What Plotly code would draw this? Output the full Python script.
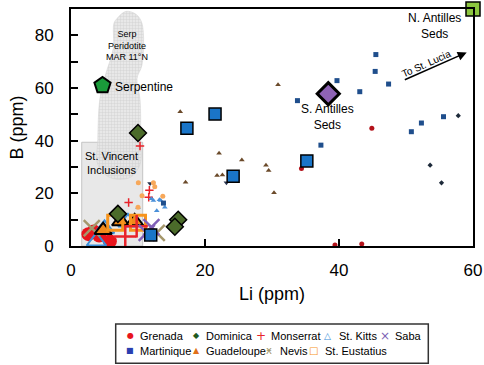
import plotly.graph_objects as go

# ---------------- data (Li ppm, B ppm) ----------------
grenada_li = [2.6, 4.2, 5.8, 3.4]
grenada_b = [4.5, 4.0, 1.8, 5.5]
grenada_small_li = [44.9, 34.4, 39.4, 43.4]
grenada_small_b = [44.7, 29.4, 0.4, 0.8]

dominica_li = [10.0, 7.0, 16.0, 15.5]
dominica_b = [42.9, 12.2, 10.0, 7.3]
dominica_small_li = [57.8, 53.6, 55.3]
dominica_small_b = [49.5, 30.7, 24.0]

monserrat_li = [8.1, 9.8]
monserrat_b = [3.6, 7.5]
monserrat_small_li = [10.3, 8.6, 11.7, 11.6]
monserrat_small_b = [38.0, 16.5, 21.2, 18.5]

stkitts_li = [3.8, 5.0, 8.5]
stkitts_b = [1.8, 6.5, 9.0]
stkitts_small_li = [12.0, 12.3, 13.2, 13.4, 12.8, 14.0, 10.0]
stkitts_small_b = [17.9, 17.3, 17.6, 17.3, 13.4, 14.7, 14.5]

saba_li = [12.0, 11.3]
saba_b = [7.2, 5.0]

martinique_li = [21.5, 17.3, 24.2, 35.2, 11.9]
martinique_b = [50.1, 44.7, 26.5, 32.3, 4.2]
martinique_small_li = [45.5, 45.4, 47.4, 39.7, 43.1, 33.8, 37.3, 52.3, 50.8, 55.6, 13.8]
martinique_small_b = [72.7, 66.3, 61.5, 62.8, 58.6, 55.2, 38.3, 46.7, 43.4, 49.1, 16.3]
martinique_other_li = [23.2, 11.8]
martinique_other_b = [24.0, 23.7]

guadeloupe_li = [4.8, 7.4, 9.5]
guadeloupe_b = [6.0, 9.3, 9.3]
guadeloupe_small_li = [16.3, 22.1, 25.5, 29.1, 29.5, 21.8, 22.6, 24.1, 17.1, 30.9, 30.3]
guadeloupe_small_b = [51.0, 35.2, 32.7, 30.7, 28.7, 26.8, 27.0, 26.8, 24.2, 61.2, 20.2]

nevis_li = [3.1, 12.8]
nevis_b = [6.8, 5.0]

steustatius_li = [6.6, 10.0]
steustatius_b = [8.8, 8.8]
steustatius_small_li = [10.05, 12.3, 12.5, 10.6, 13.7, 10.0]
steustatius_small_b = [24.0, 24.0, 22.5, 19.1, 18.9, 14.7]

serpentine_li = [4.7]
serpentine_b = [61.0]
n_antilles_li = [60.0]
n_antilles_b = [90.0]
s_antilles_li = [38.4]
s_antilles_b = [57.8]

# Serpentinised peridotite field (MAR 11N)
serp_li = [6.87, 8.2, 9.7, 10.6, 10.6, 9.85, 10.3, 10.4, 10.3, 8.8, 5.8, 4.0, 4.0, 4.3, 5.1, 6.3, 6.4, 6.87]
serp_b = [86.4, 89.1, 88.0, 84.5, 68.8, 63.5, 55.8, 40.5, 31.0, 26.0, 26.0, 31.0, 40.5, 55.8, 64.6, 75.0, 84.5, 86.4]

# St. Vincent inclusions box
stv_li = [1.6, 10.7]
stv_b = [0.0, 39.4]

x_ticks = [0, 20, 40, 60]
y_ticks = [0, 20, 40, 60, 80]

FONT = "Liberation Sans, Arial, Helvetica, sans-serif"

fig = go.Figure()

# St. Vincent box
fig.add_shape(type="rect", xref="x", yref="y", x0=stv_li[0], x1=stv_li[1], y0=stv_b[0], y1=stv_b[1],
              fillcolor="rgba(210,210,210,0.5)", line=dict(color="#c4c4c4", width=1), layer="below")

# Serp field
fig.add_trace(go.Scatter(x=serp_li, y=serp_b, mode="lines", fill="toself",
                         line=dict(color="#d0d0d0", width=0.5, shape="spline"),
                         fillcolor="rgba(220,220,220,0.8)",
                         fillpattern=dict(shape="+", fgcolor="#bdbdbd", bgcolor="rgba(228,228,228,0.85)", size=3, solidity=0.3),
                         showlegend=False, hoverinfo="skip", name="Serp Peridotite"))

def sc(x, y, name, **marker):
    fig.add_trace(go.Scatter(x=x, y=y, mode="markers", name=name, showlegend=False, marker=marker))

# small individual analyses
sc(grenada_small_li, grenada_small_b, "Grenada", symbol="circle", size=5, color="#b3121a")
sc(dominica_small_li, dominica_small_b, "Dominica", symbol="diamond", size=4, color="#1d2a3a")
sc(monserrat_small_li, monserrat_small_b, "Monserrat", symbol="cross-thin", size=6, line=dict(color="#e8232a", width=1.5))
sc(stkitts_small_li, stkitts_small_b, "St. Kitts", symbol="triangle-up", size=5, color="#4a90d9")
sc(martinique_small_li, martinique_small_b, "Martinique", symbol="square", size=5, color="#1f4e8c")
sc(martinique_other_li, martinique_other_b, "Martinique", symbol="triangle-down", size=5, color="#2a3550")
sc(guadeloupe_small_li, guadeloupe_small_b, "Guadeloupe", symbol="triangle-up", size=5, color="#6b4a2a")
sc(steustatius_small_li, steustatius_small_b, "St. Eustatius", symbol="circle", size=5, color="#f7a85a")

# large averages
sc(grenada_li, grenada_b, "Grenada", symbol="circle", size=14, color="#e8141c")
sc(stkitts_li, stkitts_b, "St. Kitts", symbol="triangle-up-open", size=17, color="#3b8fd9", line=dict(width=2, color="#3b8fd9"))
sc(nevis_li, nevis_b, "Nevis", symbol="x-thin", size=16, line=dict(color="#a5976b", width=2.5))
sc(guadeloupe_li, guadeloupe_b, "Guadeloupe", symbol="triangle-up", size=15, color="#f08a1c", line=dict(color="black", width=2))
sc(steustatius_li, steustatius_b, "St. Eustatius", symbol="square-open", size=15, color="#f7941d", line=dict(color="#f7941d", width=3))
sc(monserrat_li, monserrat_b, "Monserrat", symbol="cross-thin", size=16, line=dict(color="#e8232a", width=2.5))
sc(saba_li, saba_b, "Saba", symbol="x-thin", size=16, line=dict(color="#8060b8", width=2.5))
sc(dominica_li, dominica_b, "Dominica", symbol="diamond", size=13, color="#4b6b2a", line=dict(color="black", width=1.5))
sc(martinique_li, martinique_b, "Martinique", symbol="square", size=12, color="#1a75c8", line=dict(color="black", width=1.5))
sc(serpentine_li, serpentine_b, "Serpentine", symbol="pentagon", size=17, color="#1a9a3a", line=dict(color="black", width=2))
sc(s_antilles_li, s_antilles_b, "S. Antilles Seds", symbol="diamond", size=17, color="#8e63b5", line=dict(color="black", width=3))
fig.add_trace(go.Scatter(x=n_antilles_li, y=n_antilles_b, mode="markers", name="N. Antilles Seds", showlegend=False,
                         cliponaxis=False,
                         marker=dict(symbol="square", size=14, color="#8cc63f", line=dict(color="black", width=1.5))))

ann = []
def txt(x, y, t, size=12, **kw):
    d = dict(x=x, y=y, xref="x", yref="y", text=t, showarrow=False, font=dict(size=size, color="black", family=FONT))
    d.update(kw)
    ann.append(d)

txt(8.36, 76.0, "Serp<br>Peridotite<br>MAR 11°N", size=9)
txt(6.2, 60.5, "Serpentine", size=12, xanchor="left")
txt(6.1, 31.5, "St. Vincent<br>Inclusions", size=11)
txt(38.3, 48.8, "S. Antilles<br>Seds", size=12)
txt(54.2, 83.5, "N. Antilles<br>Seds", size=12)
txt(53.1, 69.3, "To St. Lucia", size=10, textangle=-24)
ann.append(dict(x=59.06, y=73.5, ax=49.6, ay=62.9, xref="x", yref="y", axref="x", ayref="y",
                showarrow=True, arrowhead=2, arrowsize=1.2, arrowwidth=1.5, arrowcolor="black", text=""))

# legend (drawn as text entries inside a frame below the plot)
legend_items = [
    ("●", "#e8141c", "Grenada", 0.1468, 0.1667, -0.3785),
    ("◆", "#1f5a1f", "Dominica", 0.311, 0.3308, -0.3785),
    ("+", "#e8232a", "Monserrat", 0.4726, 0.4925, -0.3785),
    ("△", "#3b8fd9", "St. Kitts", 0.6393, 0.6617, -0.3785),
    ("×", "#7d5fb5", "Saba", 0.7811, 0.801, -0.3785),
    ("■", "#2a3fb0", "Martinique", 0.1468, 0.1667, -0.443),
    ("▲", "#e0701a", "Guadeloupe", 0.3134, 0.3308, -0.443),
    ("ӿ", "#a5976b", "Nevis", 0.4925, 0.5149, -0.443),
    ("□", "#f7941d", "St. Eustatius", 0.602, 0.6269, -0.443),
]
sym_size = {"●": 8, "◆": 8, "+": 12, "△": 9, "×": 12, "■": 8, "▲": 8, "ӿ": 10, "□": 10}
for sym, col, name, xs, xt, yy in legend_items:
    ann.append(dict(x=xs, y=yy, xref="paper", yref="paper", text=sym, showarrow=False, xanchor="center",
                    yanchor="middle", font=dict(size=sym_size[sym], color=col, family="DejaVu Sans")))
    ann.append(dict(x=xt, y=yy, xref="paper", yref="paper", text=name, showarrow=False, xanchor="left",
                    yanchor="middle", font=dict(size=11, color="black", family=FONT)))

fig.add_shape(type="rect", xref="paper", yref="paper", x0=0.1112, x1=0.8888, y0=-0.495, y1=-0.329,
              line=dict(color="#333333", width=1.5), fillcolor="white")

fig.update_layout(
    width=484, height=365,
    margin=dict(l=71, r=11, t=9, b=119, autoexpand=False),
    paper_bgcolor="white", plot_bgcolor="white",
    font=dict(family=FONT, color="black"),
    annotations=ann,
    showlegend=False,
)
fig.update_xaxes(range=[0, 60], tickvals=x_ticks, ticks="inside", ticklen=7, tickwidth=1.5, tickcolor="black",
                 showline=True, mirror=True, linecolor="black", linewidth=2, showgrid=False, zeroline=False,
                 tickfont=dict(size=17), ticklabelstandoff=8, automargin=False,
                 title=dict(text="Li (ppm)", font=dict(size=18), standoff=8))
fig.update_yaxes(range=[0, 90], tickvals=y_ticks, ticks="inside", ticklen=7, tickwidth=1.5, tickcolor="black",
                 minor=dict(tickvals=[10, 30, 50, 70], ticks="inside", ticklen=7, tickwidth=1.5, tickcolor="black"),
                 showline=True, mirror=True, linecolor="black", linewidth=2, showgrid=False, zeroline=False,
                 tickfont=dict(size=17), ticklabelstandoff=12, automargin=False,
                 title=dict(text="B (ppm)", font=dict(size=18), standoff=6))

fig.write_html("out.html", config={"displayModeBar": False},
               post_script="document.body.style.margin='0';document.body.style.padding='0';")
